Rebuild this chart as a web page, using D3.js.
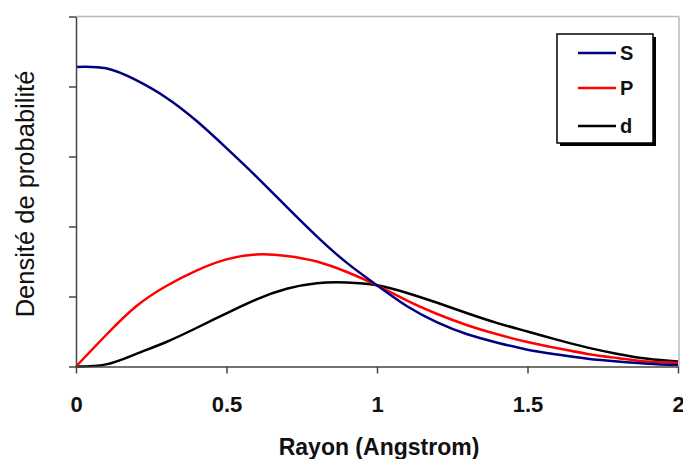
<!DOCTYPE html>
<html><head><meta charset="utf-8">
<script src="https://cdn.jsdelivr.net/npm/d3@7"></script>
<style>html,body{margin:0;padding:0;background:#fff;}svg{display:block;font-family:"Liberation Sans",Arial,sans-serif;}</style>
</head><body>
<script>
const radius = [0,0.1,0.2,0.3,0.4,0.5,0.6,0.7,0.8,0.9,1.0,1.1,1.2,1.3,1.4,1.5,1.6,1.7,1.8,1.9,2.0];
const seriesS = [4.28,4.26,4.09,3.84,3.51,3.12,2.71,2.28,1.86,1.48,1.16,0.86,0.63,0.46,0.34,0.24,0.17,0.11,0.07,0.04,0.02];
const seriesP = [0,0.45,0.86,1.15,1.37,1.53,1.6,1.58,1.5,1.35,1.16,0.94,0.75,0.59,0.46,0.35,0.26,0.18,0.12,0.07,0.05];
const seriesD = [0,0.03,0.18,0.35,0.55,0.76,0.96,1.11,1.19,1.2,1.16,1.05,0.91,0.76,0.62,0.5,0.38,0.27,0.18,0.11,0.07];
const seriesNames = ["S","P","d"];
const seriesColors = ["#000080","#ff0000","#000000"];
const xTicks = [0,0.5,1,1.5,2];
const xTickLabels = ["0","0.5","1","1.5","2"];
const yTicks = [0,1,2,3,4,5];
const xTitle = "Rayon (Angstrom)";
const yTitle = "Densité de probabilité";

const W = 683, H = 459;
const svg = d3.select("body").append("svg").attr("width", W).attr("height", H);
const x = d3.scaleLinear().domain([0,2]).range([76,678]);
const y = d3.scaleLinear().domain([0,5]).range([366.5,16.5]);

// plot border (top & right)
svg.append("line").attr("x1",x(0)).attr("x2",679).attr("y1",y(5)).attr("y2",y(5)).attr("stroke","#b8b8b8").attr("stroke-width",1.5);
svg.append("line").attr("x1",679).attr("x2",679).attr("y1",y(5)).attr("y2",y(0)).attr("stroke","#b8b8b8").attr("stroke-width",1.5);

const all = [seriesS, seriesP, seriesD];
const line = d3.line().x((d,i)=>x(radius[i])).y(d=>y(d)).curve(d3.curveNatural);
[2,1,0].forEach(k=>{
  svg.append("path").datum(all[k]).attr("d",line).attr("fill","none")
    .attr("stroke",seriesColors[k]).attr("stroke-width",2.5).attr("stroke-linejoin","round");
});

// axes
const xAxis = svg.append("g").attr("transform",`translate(0,${y(0)})`)
  .call(d3.axisBottom(x).tickValues(xTicks).tickFormat((d,i)=>xTickLabels[i]).tickSize(7).tickSizeOuter(0).tickPadding(6));
const yAxis = svg.append("g").attr("transform",`translate(${x(0)},0)`)
  .call(d3.axisLeft(y).tickValues(yTicks).tickFormat("").tickSize(7).tickSizeOuter(0));
[xAxis,yAxis].forEach(g=>{
  g.select(".domain").attr("stroke","#444").attr("stroke-width",1.5);
  g.selectAll(".tick line").attr("stroke","#444").attr("stroke-width",1.5);
});
xAxis.selectAll(".tick text").attr("fill","#111").attr("font-size",22).attr("font-weight","bold")
  .attr("font-family",'"Liberation Sans",Arial,sans-serif').attr("dy",null).attr("y",null)
  .attr("transform","translate(0,45)");

// titles
svg.append("text").attr("x",379).attr("y",455).attr("text-anchor","middle")
  .attr("font-size",23).attr("font-weight","bold").attr("fill","#111").text(xTitle);
svg.append("text").attr("transform","translate(34,194) rotate(-90)").attr("text-anchor","middle")
  .attr("font-size",25.5).attr("fill","#111").text(yTitle);

// legend
const lg = svg.append("g");
lg.append("rect").attr("x",560).attr("y",37).attr("width",96).attr("height",109).attr("fill","#000");
lg.append("rect").attr("x",557).attr("y",34).attr("width",96).attr("height",109).attr("fill","#fff").attr("stroke","#000").attr("stroke-width",1.5);
const ly = [53,88,126];
seriesNames.forEach((n,i)=>{
  lg.append("line").attr("x1",578).attr("x2",616).attr("y1",ly[i]).attr("y2",ly[i]).attr("stroke",seriesColors[i]).attr("stroke-width",2.5);
  lg.append("text").attr("x",620).attr("y",ly[i]+7).attr("font-size",20).attr("font-weight","bold").attr("fill","#111").text(n);
});
</script>
</body></html>
